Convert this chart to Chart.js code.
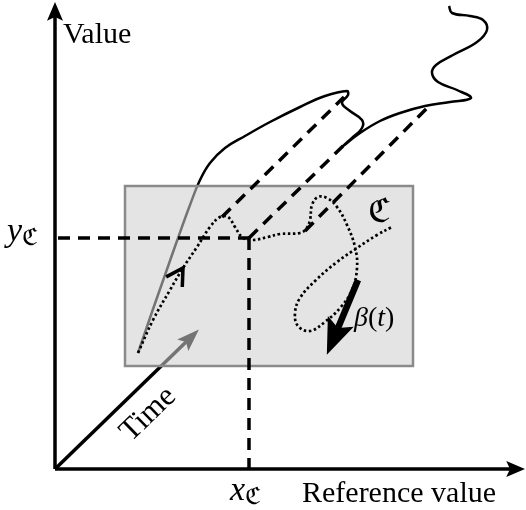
<!DOCTYPE html>
<html>
<head>
<meta charset="utf-8">
<script src="https://cdn.jsdelivr.net/npm/chart.js@4.4.1/dist/chart.umd.min.js"></script>
<style>
  html, body { margin: 0; padding: 0; background: #fff; }
  canvas { display: block; }
</style>
</head>
<body>
<canvas id="grafico" width="526" height="510"></canvas>
<script>
// coordenadas com origem no cruzamento dos eixos
const eixoValor = [[0, 0], [0, 452]];
const eixoReferencia = [[0, 0], [455, 0]];
const tempo = [[0, 0], [131, 127]];

// região retangular (faixa de x e de y)
const regiaoX = [70, 358];
const regiaoY = [103, 283];

// trajetória do valor ao longo do tempo (linha contínua)
const curvaValor = [
  [83, 116], [97, 157], [110, 194], [123, 231], [135, 264], [145, 289], [155, 306],
  [170, 321], [190, 333], [215, 347], [245, 362], [270, 373], [292, 378],
  [293, 374], [287, 366], [295, 358], [307, 349], [307, 341], [297, 331], [288, 323],
  [305, 336], [325, 348], [345, 356], [370, 363], [395, 367], [416, 371],
  [402, 379], [383, 387], [377, 396], [381, 404], [398, 414], [422, 427],
  [432, 439], [428, 449], [415, 453], [397, 456], [394, 463]
];

// curva C (pontilhada)
const curvaC = [
  [83, 116], [98, 149], [115, 179], [128, 201], [142, 222], [155, 242], [165, 252],
  [173, 252], [180, 242], [187, 232], [197, 229], [213, 232], [225, 235], [245, 236],
  [251, 240], [255, 249], [257, 264], [263, 272], [272, 271], [282, 262], [292, 244],
  [300, 222], [302, 201], [297, 179], [285, 161], [271, 148], [255, 138], [243, 143],
  [240, 156], [245, 171], [261, 189], [282, 207], [302, 221], [322, 234], [337, 242]
];

// linhas tracejadas
const tracoYC = [[3, 231], [194, 231]];
const tracoXC = [[194, 231], [194, 0]];
const projecaoA = [[167, 252], [289, 372]];
const projecaoB = [[194, 231], [288, 323]];
const projecaoC = [[250, 238], [375, 364]];

// seta beta(t)
const setaBeta = [[303, 189], [283, 141]];

// textos
const rotulos = [
  { partes: [["Value", "30px 'Liberation Serif'"]], x: 8, y: 426 },
  { partes: [["Reference value", "30px 'Liberation Serif'"]], x: 247, y: -33 },
  { partes: [["Time", "31px 'Liberation Serif'"]], x: 92, y: 56, giro: -44, centro: true },
  { partes: [["y", "italic 34px 'Liberation Serif'"], ["ℭ", "24px 'DejaVu Serif'", 4]], x: -48, y: 228 },
  { partes: [["x", "italic 34px 'Liberation Serif'"], ["ℭ", "24px 'DejaVu Serif'", 4]], x: 175, y: -31 },
  { partes: [["ℭ", "34px 'DejaVu Serif'"]], x: 313, y: 247 },
  { partes: [["β", "italic 28px 'Liberation Serif'"], ["(", "28px 'Liberation Serif'"],
             ["t", "italic 28px 'Liberation Serif'"], [")", "28px 'Liberation Serif'"]], x: 299, y: 143 }
];

const pares = arr => arr.map(p => ({ x: p[0], y: p[1] }));

function ponta(ctx, a, b, cfg, cor) {
  const dx = b.x - a.x, dy = b.y - a.y;
  const d = Math.hypot(dx, dy);
  const ux = dx / d, uy = dy / d, nx = -uy, ny = ux;
  const L = cfg.comprimento, W = cfg.largura;
  ctx.save();
  ctx.fillStyle = cor;
  ctx.beginPath();
  ctx.moveTo(b.x + L * ux, b.y + L * uy);
  ctx.lineTo(b.x - 0.25 * L * ux + W * nx, b.y - 0.25 * L * uy + W * ny);
  ctx.lineTo(b.x, b.y);
  ctx.lineTo(b.x - 0.25 * L * ux - W * nx, b.y - 0.25 * L * uy - W * ny);
  ctx.closePath();
  ctx.fill();
  ctx.restore();
}

function chevron(ctx, pts, cfg) {
  const i = cfg.indice;
  const a = pts[i - 1], b = pts[i], c = pts[i + 1];
  const ang = Math.atan2(c.y - a.y, c.x - a.x);
  const abre = cfg.abertura * Math.PI / 180;
  ctx.save();
  ctx.strokeStyle = '#000';
  ctx.lineWidth = 3.5;
  ctx.lineJoin = 'miter';
  ctx.beginPath();
  ctx.moveTo(b.x - cfg.comprimento * Math.cos(ang - abre), b.y - cfg.comprimento * Math.sin(ang - abre));
  ctx.lineTo(b.x, b.y);
  ctx.lineTo(b.x - cfg.comprimento * Math.cos(ang + abre), b.y - cfg.comprimento * Math.sin(ang + abre));
  ctx.stroke();
  ctx.restore();
}

function regiao(chart) {
  const { ctx, scales } = chart;
  const x0 = scales.x.getPixelForValue(regiaoX[0]);
  const x1 = scales.x.getPixelForValue(regiaoX[1]);
  const y0 = scales.y.getPixelForValue(regiaoY[1]);
  const y1 = scales.y.getPixelForValue(regiaoY[0]);
  ctx.save();
  ctx.fillStyle = 'rgba(206,206,206,0.56)';
  ctx.fillRect(x0, y0, x1 - x0, y1 - y0);
  ctx.strokeStyle = '#8a8a8a';
  ctx.lineWidth = 2.5;
  ctx.strokeRect(x0, y0, x1 - x0, y1 - y0);
  ctx.restore();
}

const desenho = {
  id: 'desenho',
  afterDatasetDraw(chart, args) {
    const ds = chart.data.datasets[args.index];
    const pts = args.meta.data;
    const ctx = chart.ctx;
    if (ds.ponta) ponta(ctx, pts[pts.length - 2], pts[pts.length - 1], ds.ponta, ds.borderColor);
    if (ds.chevron) chevron(ctx, pts, ds.chevron);
    if (ds.regiaoDepois) regiao(chart);
  },
  afterDatasetsDraw(chart) {
    const { ctx, scales } = chart;
    ctx.save();
    ctx.fillStyle = '#000';
    ctx.textBaseline = 'alphabetic';
    rotulos.forEach(r => {
      const px = scales.x.getPixelForValue(r.x);
      const py = scales.y.getPixelForValue(r.y);
      let larg = 0;
      r.partes.forEach(p => { ctx.font = p[1]; larg += ctx.measureText(p[0]).width; });
      ctx.save();
      ctx.translate(px, py);
      if (r.giro) ctx.rotate(r.giro * Math.PI / 180);
      let x = r.centro ? -larg / 2 : 0;
      const y0 = r.centro ? 10 : 0;
      r.partes.forEach(p => {
        ctx.font = p[1];
        ctx.fillText(p[0], x, y0 + (p[2] || 0));
        x += ctx.measureText(p[0]).width;
      });
      ctx.restore();
    });
    ctx.restore();
  }
};

const linha = (dados, extra) => Object.assign({
  data: pares(dados),
  showLine: true,
  borderColor: '#000',
  borderWidth: 3,
  pointRadius: 0,
  tension: 0,
  fill: false
}, extra);

new Chart(document.getElementById('grafico'), {
  type: 'scatter',
  data: {
    datasets: [
      linha(curvaValor, { borderWidth: 2.5, tension: 0.4, order: 6 }),
      linha(tempo, { borderWidth: 3.5, order: 5, ponta: { comprimento: 18, largura: 8 }, regiaoDepois: true }),
      linha(eixoValor, { borderWidth: 3.5, order: 4, ponta: { comprimento: 15, largura: 8 } }),
      linha(eixoReferencia, { borderWidth: 3.5, order: 4, ponta: { comprimento: 15, largura: 8 } }),
      linha(tracoYC, { borderWidth: 3.5, borderDash: [12, 8], order: 3 }),
      linha(tracoXC, { borderWidth: 3.5, borderDash: [12, 8], order: 3 }),
      linha(projecaoA, { borderWidth: 3.5, borderDash: [12, 8], order: 3 }),
      linha(projecaoB, { borderWidth: 3.5, borderDash: [12, 8], order: 3 }),
      linha(projecaoC, { borderWidth: 3.5, borderDash: [12, 8], order: 3 }),
      linha(curvaC, { borderWidth: 2.7, borderDash: [2.5, 2.6], tension: 0.4, order: 2,
                      chevron: { indice: 3, comprimento: 19, abertura: 30 } }),
      linha(setaBeta, { borderWidth: 6.5, order: 1, ponta: { comprimento: 29, largura: 14 } })
    ]
  },
  options: {
    responsive: false,
    animation: false,
    layout: { padding: 0 },
    plugins: { legend: { display: false }, tooltip: { enabled: false } },
    scales: {
      x: { type: 'linear', min: -55, max: 471, display: false },
      y: { type: 'linear', min: -41, max: 469, display: false }
    }
  },
  plugins: [desenho]
});
</script>
</body>
</html>
